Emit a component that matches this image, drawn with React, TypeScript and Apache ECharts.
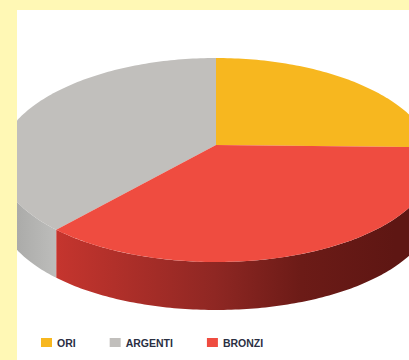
import React, { useEffect, useRef } from "react";
import * as echarts from "echarts";

const categories = ["ORI", "ARGENTI", "BRONZI"];
const values = [23, 37, 40];
// Slices run clockwise from twelve o'clock: gold, then bronze, then silver.
const sliceOrder = [0, 2, 1];
const topColors = ["#F7B71F", "#C1BFBC", "#EF4C40"];
const sideStops = [
  [{ offset: 0, color: "#F7B71F" }, { offset: 1, color: "#B8860B" }],
  [{ offset: 0, color: "#A3A3A1" }, { offset: 1, color: "#BDBDBB" }],
  [
    { offset: 0, color: "#C5352E" },
    { offset: 0.42, color: "#8F2723" },
    { offset: 0.65, color: "#6C1B17" },
    { offset: 0.9, color: "#5E1613" },
    { offset: 1, color: "#5E1613" },
  ],
];

const CHART_W = 392;
const CHART_H = 350;
// Tilted disc geometry in chart pixels; the near edge is a little wider than the far edge.
const CX = 199;
const CY = 150;
const RX = 217;
const RY = 102;
const NEAR_WIDEN = 3;
const APEX_Y = 135;
const DEPTH = 48;

const rimPoint = (deg: number): number[] => {
  const t = (deg * Math.PI) / 180;
  const rx = RX - NEAR_WIDEN * Math.cos(t);
  return [CX + rx * Math.sin(t), CY - RY * Math.cos(t)];
};

const arc = (from: number, to: number): number[][] => {
  const pts: number[][] = [];
  for (let d = from; d < to; d += 1) pts.push(rimPoint(d));
  pts.push(rimPoint(to));
  return pts;
};

const total = values.reduce((a, b) => a + b, 0);

const sliceRange = (cat: number): number[] => {
  let start = 0;
  for (const i of sliceOrder) {
    const sweep = (values[i] / total) * 360;
    if (i === cat) return [start, start + sweep];
    start += sweep;
  }
  return [0, 0];
};

const makeSeries = (cat: number) => ({
  type: "custom",
  name: categories[cat],
  coordinateSystem: "none",
  itemStyle: { color: topColors[cat] },
  data: [values[cat]],
  renderItem: () => {
    const [a, b] = sliceRange(cat);
    const children: any[] = [];
    const f0 = Math.max(a, 90);
    const f1 = Math.min(b, 270);
    if (f1 > f0) {
      const upper = arc(f0, f1);
      const lower = upper.map((p) => [p[0], p[1] + DEPTH]).reverse();
      children.push({
        type: "polygon",
        shape: { points: upper.concat(lower) },
        style: {
          fill: {
            type: "linear",
            x: 0,
            y: 0,
            x2: 1,
            y2: 0,
            colorStops: sideStops[cat],
          },
        },
      });
    }
    children.push({
      type: "polygon",
      shape: { points: [[CX, APEX_Y] as number[]].concat(arc(a, b)) },
      style: { fill: topColors[cat] },
    });
    return { type: "group", children };
  },
});

export default function App() {
  const ref = useRef<HTMLDivElement>(null);
  useEffect(() => {
    const chart = echarts.init(ref.current!, null, { renderer: "svg" });
    chart.setOption({
      animation: false,
      backgroundColor: "#FFFFFF",
      legend: {
        left: 24,
        top: 327,
        padding: 0,
        itemWidth: 11,
        itemHeight: 9,
        itemGap: 34,
        icon: "rect",
        data: categories,
        selectedMode: false,
        textStyle: {
          fontFamily: "Liberation Sans",
          fontSize: 10.5,
          fontWeight: "bold",
          color: "#2A2F42",
        },
      },
      series: categories.map((_, i) => makeSeries(i)),
    });
    return () => chart.dispose();
  }, []);
  return (
    <div style={{ position: "fixed", left: 0, top: 0, width: 409, height: 360, background: "#FFF8B5", overflow: "hidden" }}>
      <div ref={ref} style={{ position: "absolute", left: 17, top: 10, width: CHART_W, height: CHART_H }} />
    </div>
  );
}
